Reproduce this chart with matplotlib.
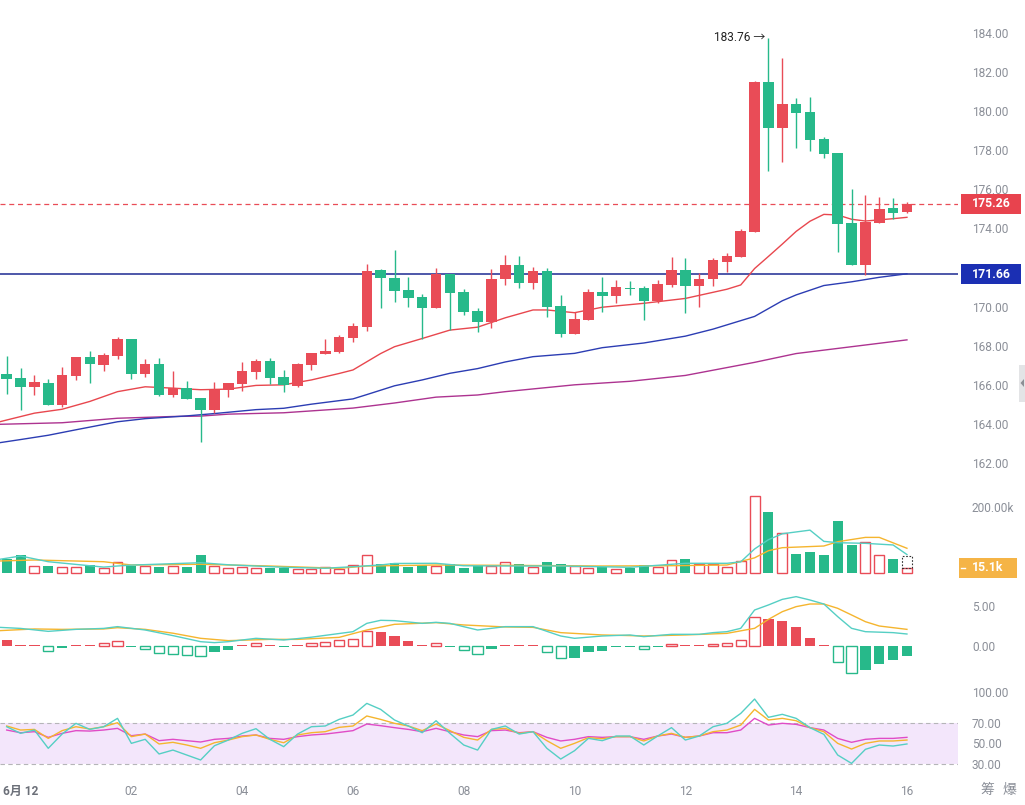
import matplotlib
matplotlib.use('Agg')
import matplotlib.pyplot as plt
from matplotlib.patches import Rectangle, Polygon
from matplotlib.transforms import IdentityTransform
import numpy as np

# ---------------- data ----------------
time_ticks = [1, 9, 17, 25, 33, 41, 49, 57, 65]
time_labels = ['6月 12', '02', '04', '06', '08', '10', '12', '14', '16']

opens = [166.55, 166.35, 165.87, 166.08, 164.98, 166.47, 167.42, 167.03, 167.49, 168.34,
         166.57, 167.09, 165.49, 165.82, 165.33, 164.71, 165.72, 166.06, 166.67, 167.22,
         166.40, 165.95, 167.03, 167.59, 167.69, 168.41, 168.97, 171.87, 171.45, 170.85,
         170.48, 169.95, 171.67, 170.75, 169.78, 169.23, 171.40, 172.13, 171.22, 171.82,
         170.03, 168.61, 169.32, 170.75, 170.56, 170.97, 170.97, 170.31, 171.11, 171.87,
         171.07, 171.40, 172.30, 172.55, 173.83, 181.49, 179.16, 180.37, 179.96, 178.58,
         177.88, 174.26, 172.15, 174.29, 175.05, 174.86]
closes = [166.31, 165.87, 166.14, 164.98, 166.50, 167.42, 167.08, 167.51, 168.34, 166.57,
          167.05, 165.49, 165.82, 165.29, 164.71, 165.72, 166.08, 166.71, 167.22, 166.36,
          165.99, 167.06, 167.61, 167.73, 168.43, 169.01, 171.82, 171.45, 170.82, 170.46,
          169.95, 171.67, 170.71, 169.74, 169.23, 171.40, 172.13, 171.22, 171.82, 169.99,
          168.61, 169.37, 170.75, 170.56, 171.00, 170.92, 170.29, 171.16, 171.87, 171.07,
          171.40, 172.39, 172.59, 173.88, 181.49, 179.16, 180.37, 179.92, 178.53, 177.81,
          174.23, 172.15, 174.31, 174.98, 174.81, 175.26]
highs = [167.47, 166.86, 166.49, 166.28, 166.93, 167.42, 167.74, 167.64, 168.46, 168.34,
         167.34, 167.36, 166.72, 166.18, 165.33, 166.13, 166.08, 167.15, 167.34, 167.36,
         166.76, 167.13, 167.61, 168.34, 168.55, 169.15, 172.18, 171.94, 172.90, 171.50,
         170.63, 171.96, 171.67, 170.89, 169.93, 171.91, 172.64, 172.59, 172.04, 171.96,
         170.60, 169.74, 170.89, 171.53, 171.36, 171.33, 171.06, 171.36, 172.56, 172.47,
         171.71, 172.47, 172.73, 173.96, 181.56, 183.76, 182.74, 180.66, 180.71, 178.69,
         177.88, 176.00, 175.70, 175.59, 175.57, 175.35]
lows = [165.53, 164.71, 165.48, 164.95, 164.88, 166.25, 166.11, 166.72, 167.32, 166.28,
        166.42, 165.45, 165.39, 165.25, 163.06, 164.57, 165.39, 165.67, 166.30, 166.04,
        165.65, 165.90, 166.76, 167.59, 167.64, 168.21, 168.77, 169.91, 170.25, 170.00,
        168.34, 169.95, 168.80, 169.57, 168.69, 168.92, 171.11, 170.97, 170.89, 169.48,
        168.46, 168.61, 169.32, 169.74, 170.17, 170.60, 169.32, 170.17, 171.02, 169.66,
        169.97, 171.06, 171.79, 172.55, 173.83, 176.95, 177.42, 178.10, 177.98, 177.59,
        172.81, 172.15, 171.62, 174.26, 174.50, 174.77]

ma_fast_idx = [-0.5, 0, 2, 4, 6, 8, 10, 12, 14, 16, 18, 20, 22, 24, 25, 27, 28, 30, 32, 34,
               36, 38, 39, 41, 43, 46, 49, 52, 53, 54, 55, 56, 57, 58, 59, 60, 61, 62, 64, 65]
ma_fast = [164.11, 164.2, 164.55, 164.75, 165.15, 165.65, 165.9, 165.83, 165.75, 165.78,
           165.97, 166.0, 166.25, 166.58, 166.76, 167.6, 167.95, 168.37, 168.8, 168.95,
           169.43, 169.83, 169.83, 169.69, 169.97, 170.17, 170.42, 170.89, 171.11, 171.95,
           172.57, 173.2, 173.85, 174.37, 174.72, 174.69, 174.47, 174.38, 174.5, 174.57]
ma_mid_idx = [-0.5, 1, 3, 5, 8, 10, 13, 15, 18, 20, 22, 25, 26, 28, 30, 32, 34, 36, 38, 41,
              43, 46, 49, 51, 54, 56, 57, 59, 61, 63, 65]
ma_mid = [163.04, 163.2, 163.42, 163.7, 164.11, 164.27, 164.41, 164.53, 164.73, 164.8,
          165.01, 165.28, 165.5, 165.95, 166.25, 166.59, 166.83, 167.17, 167.44, 167.61,
          167.9, 168.14, 168.49, 168.85, 169.5, 170.3, 170.6, 171.08, 171.27, 171.5, 171.68]
ma_slow_idx = [-0.5, 4, 8, 12, 14, 16, 20, 25, 28, 31, 34, 36, 41, 45, 49, 54, 57, 61, 65]
ma_slow = [163.98, 164.06, 164.29, 164.38, 164.4, 164.5, 164.57, 164.81, 165.07, 165.37,
           165.48, 165.65, 166.0, 166.18, 166.48, 167.15, 167.6, 167.95, 168.3]

last_price = 175.26
level_line = 171.66
peak_label = '183.76'

volume_k = [40.5, 53.6, 19.4, 20.3, 16.3, 16.3, 22.4, 15.2, 31.5, 21.2, 19.4, 18.2, 20.3, 17.3,
            53.6, 21.2, 13.3, 18.2, 14.2, 15.2, 13.3, 12.1, 12.1, 16.3, 10.3, 22.4, 52.7, 25.5,
            28.5, 18.2, 22.4, 19.4, 25.5, 15.2, 20.3, 21.2, 31.5, 25.5, 16.3, 32.4, 25.5, 20.3,
            13.3, 17.3, 11.2, 13.3, 22.4, 16.3, 37.6, 41.5, 26.4, 25.5, 17.3, 35.5, 232, 184,
            119, 56.6, 62.7, 53.6, 156.7, 83.9, 93, 52.7, 41.5, 15.1]
volume_projected_k = 52.0
vma5_idx = [-0.5, 1, 3, 7, 8, 9, 14, 16, 20, 23, 25, 27, 28, 31, 33, 36, 40, 45, 49, 52,
            53, 54, 55, 56, 58, 59, 60, 62, 64, 65]
vma5 = [40.6, 50.6, 33.3, 17, 20.3, 23, 30.3, 24, 16.4, 13.5, 18.2, 23.5, 28, 28.5, 21,
        20.3, 20.3, 16.4, 28.5, 28.5, 33, 72, 100, 118, 129, 95, 90.9, 89, 84, 55]
vma10_idx = [-0.5, 2, 7, 9, 14, 19, 24, 26, 31, 36, 43, 48, 52, 54, 55, 56, 59, 60, 62, 63, 65]
vma10 = [35.5, 38.5, 33.3, 23.3, 25.5, 20.3, 13.3, 20.3, 23.3, 22.4, 20.3, 21.2, 23.3, 45,
         66.7, 75.8, 80.9, 93.9, 107, 107, 74]

macd_hist = [0.75, 0.12, 0.08, -0.58, -0.21, 0.10, 0.10, 0.38, 0.58, -0.15, -0.33, -0.92,
             -1.04, -1.12, -1.29, -0.79, -0.46, 0.10, 0.42, 0.15, -0.10, 0.10, 0.38, 0.46,
             0.75, 0.88, 1.88, 1.79, 1.25, 0.63, 0.12, 0.38, -0.10, -0.54, -1.04, -0.38,
             0.12, 0.12, 0.12, -0.79, -1.54, -1.46, -0.79, -0.58, -0.15, -0.15, -0.33, -0.15,
             0.25, 0.10, 0.10, 0.25, 0.42, 0.75, 3.58, 3.38, 3.13, 2.38, 1.00, 0.12, -2.04,
             -3.42, -3.00, -2.25, -1.75, -1.25]
dif_idx = [-0.5, 1, 3, 5, 7, 8, 10, 12, 14, 15, 16, 18, 20, 22, 25, 26, 27, 28, 30, 31, 32,
           34, 36, 38, 40, 41, 43, 45, 46, 48, 50, 51, 52, 53, 54, 55, 56, 57, 58, 59, 60, 61,
           62, 64, 65]
dif = [2.33, 2.2, 1.83, 2.08, 2.2, 2.42, 2.0, 1.3, 0.54, 0.42, 0.54, 0.96, 0.75, 1.1, 1.79,
       2.83, 3.21, 3.17, 2.83, 2.96, 2.83, 2.0, 2.42, 2.42, 1.25, 0.96, 1.25, 1.38, 1.17, 1.46,
       1.46, 1.67, 1.79, 2.21, 4.5, 5.13, 5.83, 6.17, 5.75, 5.25, 3.67, 2.21, 1.79, 1.67, 1.5]
dea_idx = [-0.5, 2, 4, 7, 8, 10, 12, 14, 16, 19, 21, 24, 26, 28, 31, 33, 36, 38, 40, 43, 45,
           46, 49, 52, 54, 55, 56, 57, 58, 59, 60, 61, 62, 63, 65]
dea = [1.92, 2.13, 2.08, 2.13, 2.29, 2.08, 1.6, 0.96, 0.67, 0.83, 0.83, 1.08, 2.0, 2.71, 2.92,
       2.63, 2.38, 2.33, 1.67, 1.38, 1.3, 1.25, 1.38, 1.58, 2.21, 3.33, 4.29, 4.92, 5.25, 5.25,
       4.71, 3.88, 3.04, 2.5, 2.08]

rsi6 = [66.1, 59.7, 62.9, 45.2, 59.0, 69.4, 63.5, 66.1, 74.2, 50.0, 53.9, 39.7, 43.5, 38.7,
        33.9, 47.7, 53.2, 59.7, 64.2, 53.9, 46.8, 59.0, 66.1, 66.8, 73.2, 77.4, 88.7, 82.9,
        72.6, 66.8, 60.3, 71.9, 59.7, 48.4, 43.5, 63.5, 66.8, 59.0, 61.3, 45.2, 34.8, 42.9,
        54.8, 52.6, 57.1, 57.1, 48.4, 57.1, 65.2, 53.2, 57.1, 66.1, 69.4, 79.0, 92.9, 75.2,
        78.1, 74.2, 65.2, 58.7, 38.7, 30.6, 44.2, 48.4, 47.4, 49.4]
rsi12 = [66.8, 62.9, 63.5, 54.8, 62.3, 66.1, 63.9, 66.1, 70.0, 56.5, 59.0, 49.4, 51.0, 48.4,
         45.2, 50.6, 53.2, 56.5, 58.1, 53.9, 50.6, 58.1, 60.3, 61.3, 65.5, 66.8, 76.5, 73.2,
         69.4, 66.8, 62.3, 68.7, 62.3, 55.8, 53.2, 63.5, 64.5, 59.7, 61.3, 52.6, 45.2, 50.0,
         55.5, 54.5, 56.5, 56.5, 52.3, 57.1, 59.7, 55.8, 57.1, 61.3, 62.9, 67.7, 82.9, 72.6,
         74.2, 71.9, 65.2, 61.3, 50.0, 44.5, 50.0, 52.3, 52.3, 53.2]
rsi24 = [62.9, 60.3, 61.3, 55.8, 59.7, 62.3, 61.9, 62.9, 64.5, 57.4, 59.0, 52.6, 53.9, 52.6,
         51.3, 53.9, 54.8, 57.1, 58.1, 54.8, 53.9, 56.5, 58.1, 59.0, 60.6, 62.3, 68.7, 67.1,
         65.2, 63.5, 61.3, 64.5, 61.3, 58.1, 56.5, 62.3, 62.9, 60.3, 61.3, 55.8, 52.3, 53.9,
         56.5, 55.8, 56.5, 56.5, 53.9, 57.1, 59.0, 55.8, 57.1, 60.3, 60.3, 62.9, 74.2, 67.7,
         69.4, 68.4, 65.2, 62.9, 54.8, 51.0, 53.9, 54.8, 54.8, 55.8]

# ---------------- style ----------------
plt.rcParams['font.family'] = ['Roboto', 'Noto Sans CJK SC', 'DejaVu Sans']
RED = '#e94c57'
GREEN = '#27b98a'
GRAY = '#8b8f98'
C_MA1, C_MA2, C_MA3 = '#e8474e', '#2c3db3', '#ad3390'
CYAN, YELLOW, MAGENTA = '#55cfc4', '#f5b52e', '#e04cc6'

W, H = 1025, 805
fig = plt.figure(figsize=(W / 100, H / 100), dpi=100)
fig.patch.set_facecolor('white')

n = len(opens)
x = np.arange(n)
XMIN, XMAX = -0.484, 68.686
PLOT_RIGHT = 958


def add_ax(y0, y1):
    ax = fig.add_axes([0, 1 - y1 / H, PLOT_RIGHT / W, (y1 - y0) / H])
    ax.set_facecolor('none')
    for s in ax.spines.values():
        s.set_visible(False)
    ax.set_xlim(XMIN, XMAX)
    ax.set_xticks([])
    ax.yaxis.tick_right()
    ax.tick_params(axis='y', length=0, pad=10, labelsize=8.6, labelcolor=GRAY)
    return ax


ax_p = add_ax(0, 478)
ax_p.set_ylim(161.233, 185.688)
ax_v = add_ax(480, 576)
ax_v.set_ylim(-10, 280.9)
ax_m = add_ax(585, 680)
ax_m.set_ylim(-4.25, 7.625)
ax_r = add_ax(682, 770)
ax_r.set_ylim(24.2, 109.4)

# ---- price panel ----
up = [c >= o for o, c in zip(opens, closes)]
cols = [RED if u else GREEN for u in up]
ax_p.vlines(x, lows, highs, colors=cols, linewidth=1.0, zorder=3)
bottoms = [min(o, c) for o, c in zip(opens, closes)]
heights = [max(abs(c - o), 0.04) for o, c in zip(opens, closes)]
ax_p.bar(x, heights, bottom=bottoms, width=0.76, color=cols, linewidth=0, zorder=4)

ax_p.plot(ma_slow_idx, ma_slow, color=C_MA3, lw=1.0, zorder=2)
ax_p.plot(ma_mid_idx, ma_mid, color=C_MA2, lw=1.0, zorder=2)
ax_p.plot(ma_fast_idx, ma_fast, color=C_MA1, lw=1.0, zorder=2)

ax_p.axhline(last_price, color=RED, lw=0.9, ls=(0, (4, 3)), zorder=1)
ax_p.axhline(level_line, color='#1d2a92', lw=1.1, zorder=1)

ax_p.set_yticks(np.arange(162, 185, 2))
ax_p.set_yticklabels(['%.2f' % v for v in np.arange(162, 185, 2)])

ip = int(np.argmax(highs))
ax_p.text(ip - 0.25, highs[ip], peak_label + ' \u2192', ha='right', va='center',
          fontsize=8.6, color='#222222')

# ---- volume panel ----
for i in range(n):
    if up[i]:
        ax_v.bar(x[i], volume_k[i], width=0.72, facecolor='white', edgecolor=RED,
                 linewidth=1.0, zorder=3)
    else:
        ax_v.bar(x[i], volume_k[i], width=0.72, color=GREEN, linewidth=0, zorder=3)
ax_v.add_patch(Rectangle((x[-1] - 0.36, volume_k[-1]), 0.72,
                         volume_projected_k - volume_k[-1], fill=False,
                         edgecolor='#333333', lw=0.8, ls=(0, (1.5, 1.5)), zorder=4))
ax_v.plot(vma10_idx, vma10, color=YELLOW, lw=1.0, zorder=5)
ax_v.plot(vma5_idx, vma5, color=CYAN, lw=1.0, zorder=5)
ax_v.set_yticks([200])
ax_v.set_yticklabels(['200.00k'])

# ---- MACD panel ----
prev = None
for i, v in enumerate(macd_hist):
    c = RED if v >= 0 else GREEN
    hollow = prev is not None and abs(v) > abs(prev)
    if hollow:
        ax_m.bar(x[i], v, width=0.74, facecolor='white', edgecolor=c, linewidth=1.0, zorder=3)
    else:
        ax_m.bar(x[i], v, width=0.74, color=c, linewidth=0, zorder=3)
    prev = v
ax_m.plot(dea_idx, dea, color=YELLOW, lw=1.0, zorder=4)
ax_m.plot(dif_idx, dif, color=CYAN, lw=1.0, zorder=4)
ax_m.set_yticks([0, 5])
ax_m.set_yticklabels(['0.00', '5.00'])

# ---- RSI panel ----
ax_r.axhspan(30, 70, color='#f3e6fb', lw=0, zorder=0)
ax_r.axhline(70, color='#b5b5b8', lw=0.8, ls=(0, (4, 3)), zorder=1)
ax_r.axhline(30, color='#b5b5b8', lw=0.8, ls=(0, (4, 3)), zorder=1)
ax_r.plot(x, rsi24, color=MAGENTA, lw=1.0, zorder=3)
ax_r.plot(x, rsi12, color=YELLOW, lw=1.0, zorder=4)
ax_r.plot(x, rsi6, color=CYAN, lw=1.0, zorder=5)
ax_r.set_yticks([30, 50, 70, 100])
ax_r.set_yticklabels(['30.00', '50.00', '70.00', '100.00'])
ax_r.set_xticks(time_ticks)
ax_r.set_xticklabels(time_labels)
ax_r.tick_params(axis='x', length=0, pad=11, labelsize=8.6, labelcolor=GRAY)
first = ax_r.get_xticklabels()[0]
first.set_fontweight('bold')
first.set_color('#6b6f78')

# ---- value boxes on the right axis ----
ID = IdentityTransform()


def value_box(ax, val, text, color, x0=961, x1=1021, h=19.5):
    _, yd = ax.transData.transform((0, val))
    fig.add_artist(Rectangle((x0, yd - h / 2), x1 - x0, h, transform=ID,
                             facecolor=color, edgecolor='none', zorder=10))
    fig.text((x0 + x1) / 2, yd, text, transform=ID, ha='center', va='center',
             color='white', fontsize=8.8, fontweight='bold', zorder=11)
    return yd


value_box(ax_p, last_price, '%.2f' % last_price, '#e8434e')
value_box(ax_p, level_line, '%.2f' % level_line, '#1b2fb3')
yv = value_box(ax_v, volume_k[-1], '%.1fk' % volume_k[-1], '#f5b446', x0=959, x1=1017, h=20)
fig.add_artist(plt.Line2D([961, 965], [yv, yv], transform=ID, color='white', lw=1, zorder=12))

# side handle tab
fig.add_artist(Rectangle((1019, H - 402), 6, 37, transform=ID, facecolor='#e3e4e6',
                         edgecolor='none', zorder=10))
fig.add_artist(Polygon([[1024, H - 379], [1024, H - 387], [1020.5, H - 383]], closed=True,
                       transform=ID, facecolor='#8c8f95', edgecolor='none', zorder=11))

# bottom-right labels
fig.text(987, H - 790, '筹', transform=ID, ha='center', va='center', fontsize=10,
         color='#8b8f98', family=['Noto Sans CJK SC'])
fig.text(1009, H - 790, '爆', transform=ID, ha='center', va='center', fontsize=10,
         color='#8b8f98', family=['Noto Sans CJK SC'])

fig.savefig('out.png', dpi=100, facecolor='white')
